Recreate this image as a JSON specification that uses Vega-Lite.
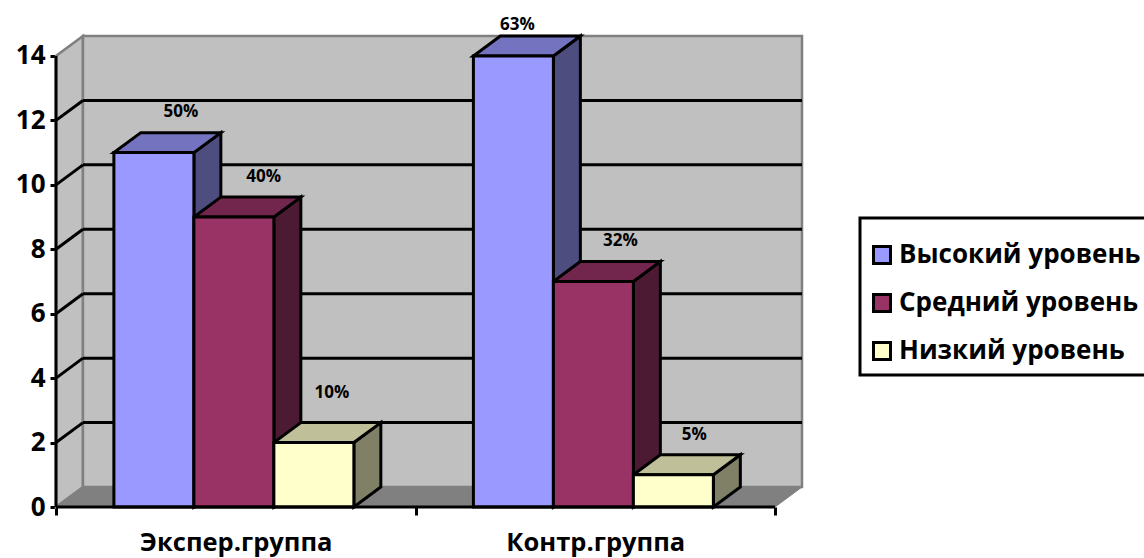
{
"$schema":"https://vega.github.io/schema/vega-lite/v6.json",
"width":746,"height":471,"autosize":"none",
"padding":{"left":56,"top":36,"right":342,"bottom":51},
"background":"white",
"datasets":{
"bars":[
{"group":"Экспер.группа","level":"Высокий уровень","value":11,"pct":"50%"},
{"group":"Экспер.группа","level":"Средний уровень","value":9,"pct":"40%"},
{"group":"Экспер.группа","level":"Низкий уровень","value":2,"pct":"10%"},
{"group":"Контр.группа","level":"Высокий уровень","value":14,"pct":"63%"},
{"group":"Контр.группа","level":"Средний уровень","value":7,"pct":"32%"},
{"group":"Контр.группа","level":"Низкий уровень","value":1,"pct":"5%"}],
"grid":[{"tick":2},{"tick":4},{"tick":6},{"tick":8},{"tick":10},{"tick":12}],
"depth":[{"depth":0},{"depth":1}],
"one":[{"id":1}]
},
"layer":[
{"data":{"name":"depth"},
 "transform":[{"calculate":"datum.depth*0.075","as":"dx"},{"calculate":"datum.depth*0.62","as":"lo"},{"calculate":"14+datum.depth*0.62","as":"hi"}],
 "mark":{"type":"area","orient":"vertical","fill":"#C0C0C0","stroke":"#808080","strokeWidth":2.5},
 "encoding":{
  "x":{"field":"dx","type":"quantitative","scale":{"domain":[0,2.075],"nice":false,"zero":false},
   "axis":{"values":[0,0.5,1,1.5,2],"title":null,"domain":false,"grid":false,"tickColor":"black","tickWidth":3,
    "tickSize":{"condition":{"test":"datum.value==0.5||datum.value==1.5","value":0},"value":8},
    "labelExpr":"datum.value==0.5?'Экспер.группа':datum.value==1.5?'Контр.группа':''",
    "labelFont":"Open Sans","labelFontWeight":"bold","labelFontSize":25.5,"labelColor":"black","labelPadding":23,"labelLimit":400,"labelOverlap":false,"labelFlush":false}},
  "y":{"field":"lo","type":"quantitative","scale":{"domain":[0,14.62],"nice":false,"zero":false},
   "axis":{"values":[0,2,4,6,8,10,12,14],"title":null,"domain":false,"grid":false,"tickColor":"black","tickWidth":3,"tickSize":6,
    "labelFont":"Open Sans","labelFontWeight":"bold","labelFontSize":26,"labelColor":"black","labelPadding":5}},
  "y2":{"field":"hi"}}},
{"data":{"name":"one"},"mark":{"type":"rect","fill":"#C0C0C0","stroke":"#808080","strokeWidth":2.5},
 "encoding":{"x":{"datum":0.075,"type":"quantitative"},"x2":{"datum":2.075},"y":{"datum":0.62,"type":"quantitative"},"y2":{"datum":14.62}}},
{"data":{"name":"depth"},
 "transform":[{"calculate":"datum.depth*0.075","as":"x0"},{"calculate":"2+datum.depth*0.075","as":"x1"},{"calculate":"datum.depth*0.62","as":"yy"}],
 "mark":{"type":"area","orient":"horizontal","fill":"#808080","stroke":"#808080","strokeWidth":1},
 "encoding":{"y":{"field":"yy","type":"quantitative"},"x":{"field":"x0","type":"quantitative"},"x2":{"field":"x1"}}},
{"data":{"name":"grid"},"transform":[{"calculate":"datum.tick+0.62","as":"back"}],
 "mark":{"type":"rule","stroke":"black","strokeWidth":3},
 "encoding":{"x":{"datum":0.075,"type":"quantitative"},"x2":{"datum":2.075},"y":{"field":"back","type":"quantitative"}}},
{"data":{"name":"grid"},"transform":[{"calculate":"datum.tick+0.62","as":"back"}],
 "mark":{"type":"rule","stroke":"black","strokeWidth":3},
 "encoding":{"x":{"datum":0,"type":"quantitative"},"x2":{"datum":0.075},"y":{"field":"tick","type":"quantitative"},"y2":{"field":"back"}}},
{"data":{"name":"bars"},
 "transform":[
 {"calculate":"indexof(['Экспер.группа','Контр.группа'],datum.group)+0.161+0.2225*indexof(['Высокий уровень','Средний уровень','Низкий уровень'],datum.level)+0.2225","as":"right"},
 {"calculate":"[0,1]","as":"depth"},{"flatten":["depth"]},
 {"calculate":"datum.right+datum.depth*0.075","as":"xs"},
 {"calculate":"datum.value+datum.depth*0.62","as":"ys"},
 {"calculate":"datum.depth*0.62","as":"ys0"},
 {"calculate":"datum.group+datum.level","as":"key"}],
 "mark":{"type":"area","orient":"vertical","stroke":"black","strokeWidth":3,"strokeJoin":"miter"},
 "encoding":{
  "x":{"field":"xs","type":"quantitative"},"y":{"field":"ys","type":"quantitative"},"y2":{"field":"ys0"},
  "detail":{"field":"key"},
  "fill":{"field":"level","type":"nominal","legend":null,"scale":{"domain":["Высокий уровень","Средний уровень","Низкий уровень"],"range":["#4D4D80","#4D1A33","#808066"]}}}},
{"data":{"name":"bars"},
 "transform":[
 {"calculate":"indexof(['Экспер.группа','Контр.группа'],datum.group)+0.161+0.2225*indexof(['Высокий уровень','Средний уровень','Низкий уровень'],datum.level)","as":"left"},
 {"calculate":"[0,1]","as":"depth"},{"flatten":["depth"]},
 {"calculate":"datum.left+datum.depth*0.075","as":"xa"},
 {"calculate":"datum.left+0.2225+datum.depth*0.075","as":"xb"},
 {"calculate":"datum.value+datum.depth*0.62","as":"ys"},
 {"calculate":"datum.group+datum.level","as":"key"}],
 "mark":{"type":"area","orient":"horizontal","stroke":"black","strokeWidth":3,"strokeJoin":"miter"},
 "encoding":{
  "y":{"field":"ys","type":"quantitative"},"x":{"field":"xa","type":"quantitative"},"x2":{"field":"xb"},
  "detail":{"field":"key"},
  "fill":{"field":"level","type":"nominal","legend":null,"scale":{"domain":["Высокий уровень","Средний уровень","Низкий уровень"],"range":["#7373BF","#73264D","#BFBF99"]}}}},
{"data":{"name":"bars"},
 "transform":[
 {"calculate":"indexof(['Экспер.группа','Контр.группа'],datum.group)+0.161+0.2225*indexof(['Высокий уровень','Средний уровень','Низкий уровень'],datum.level)","as":"left"},
 {"calculate":"datum.left+0.2225","as":"right"}],
 "mark":{"type":"rect","stroke":"black","strokeWidth":3},
 "encoding":{
  "x":{"field":"left","type":"quantitative"},"x2":{"field":"right"},
  "y":{"field":"value","type":"quantitative"},"y2":{"datum":0},
  "fill":{"field":"level","type":"nominal","scale":{"domain":["Высокий уровень","Средний уровень","Низкий уровень"],"range":["#9999FF","#993366","#FFFFCC"]},
   "legend":{"title":" ","titleFontSize":4,"titlePadding":11,"orient":"none","legendX":804,"legendY":182,"symbolType":"square","symbolSize":289,"symbolStrokeColor":"black","symbolStrokeWidth":3,"labelOffset":4,
    "labelFont":"Open Sans","labelFontWeight":"bold","labelFontSize":26,"labelColor":"black","labelLimit":400,"rowPadding":18,"padding":9,"fillColor":"white","strokeColor":"black"}}}},
{"data":{"name":"one"},"mark":{"type":"rule","stroke":"black","strokeWidth":3},
 "encoding":{"x":{"datum":0,"type":"quantitative"},"y":{"datum":0,"type":"quantitative"},"y2":{"datum":14}}},
{"data":{"name":"one"},"mark":{"type":"rule","stroke":"black","strokeWidth":3},
 "encoding":{"x":{"datum":0,"type":"quantitative"},"x2":{"datum":2},"y":{"datum":0,"type":"quantitative"}}},
{"data":{"name":"bars"},
 "transform":[
 {"calculate":"indexof(['Экспер.группа','Контр.группа'],datum.group)+0.161+0.2225*indexof(['Высокий уровень','Средний уровень','Низкий уровень'],datum.level)+0.1862+(datum.pct=='63%'?-0.064:datum.pct=='10%'?-0.025:datum.pct=='5%'?-0.017:datum.pct=='40%'?0.008:0)","as":"cx"},
 {"calculate":"datum.value+(datum.pct=='63%'?0.96:datum.pct=='10%'?1.55:1.25)","as":"cy"}],
 "mark":{"type":"text","font":"Open Sans","fontWeight":"bold","fontSize":17,"fill":"black","align":"center","baseline":"middle"},
 "encoding":{"x":{"field":"cx","type":"quantitative"},"y":{"field":"cy","type":"quantitative"},"text":{"field":"pct"}}}
],
"resolve":{"scale":{"fill":"independent"}},
"config":{"view":{"stroke":null},"legend":{"strokeWidth":3}}
}
